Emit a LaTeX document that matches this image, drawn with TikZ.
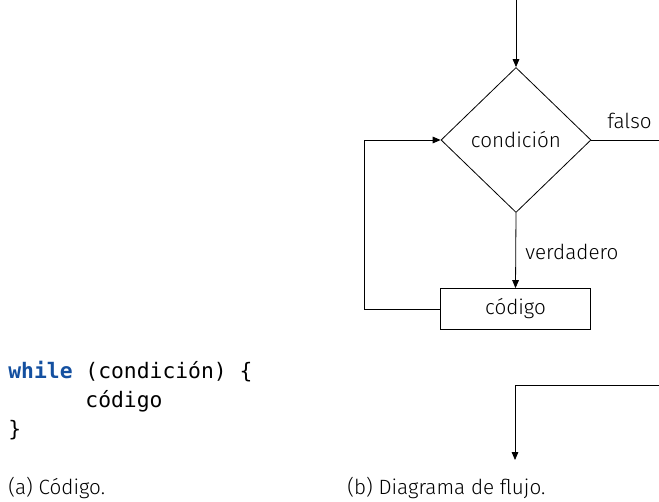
\documentclass[tikz,border=0pt]{standalone}
\usepackage{fontspec}
\setmainfont{Fira Sans Light}
\setmonofont{DejaVu Sans Mono}
\usetikzlibrary{shapes.geometric,arrows.meta}
\definecolor{kwblue}{RGB}{20,80,160}
\begin{document}
\begin{tikzpicture}[x=0.75pt,y=-0.75pt,
	line width=0.6pt, >={Triangle[length=6pt,width=5pt]},
	cond/.style = {draw, diamond, inner sep=0pt, minimum width=112.5pt, minimum height=108.75pt},
	caja/.style = {draw, rectangle, minimum width=113pt, minimum height=30.75pt},
	txt/.style = {font=\fontsize{15.5}{18}\selectfont, inner sep=0pt},
	leyenda/.style = {font=\fontsize{15.5}{18}\selectfont, inner sep=0pt, anchor=base west},
	code/.style = {font=\fontsize{16}{19}\selectfont\ttfamily, inner sep=0pt, anchor=base west}]
	\useasboundingbox (0,0) rectangle (659,502);
	% Codigo
	\node[code] (l1) at (8,378) {\textcolor{kwblue}{\bfseries while} (condición) \{};
	\node[code] (l2) at (8,407) {\phantom{xxxxxx}código};
	\node[code] (l3) at (8,436) {\}};
	\node[leyenda] (capa) at (8,494) {(a) Código.};
	% Diagrama
	\coordinate (inicio) at (516,0);
	\node[cond, txt] (condicion) at (516,140) {condición};
	\node[caja, txt] (codigo) at (515.5,309) {código};
	\coordinate (salida) at (659,140);
	\coordinate (vuelta) at (364,309);
	\coordinate (entrada) at (659,385);
	\coordinate (fin) at (515,460);
	\node[txt, anchor=base west] (falso) at (607,129) {falso};
	\node[txt, anchor=base west] (verdadero) at (525,259) {verdadero};
	\node[leyenda] (capb) at (347,494) {(b) Diagrama de flujo.};
	% Flechas
	\draw[->] (inicio) -- (condicion.north);
	\draw (condicion.east) -- (salida);
	\draw[->] (condicion.south) -- (codigo.north);
	\draw[->] (codigo.west) -- (vuelta) |- (condicion.west);
	\draw[->] (entrada) -| (fin);
\end{tikzpicture}
\end{document}
